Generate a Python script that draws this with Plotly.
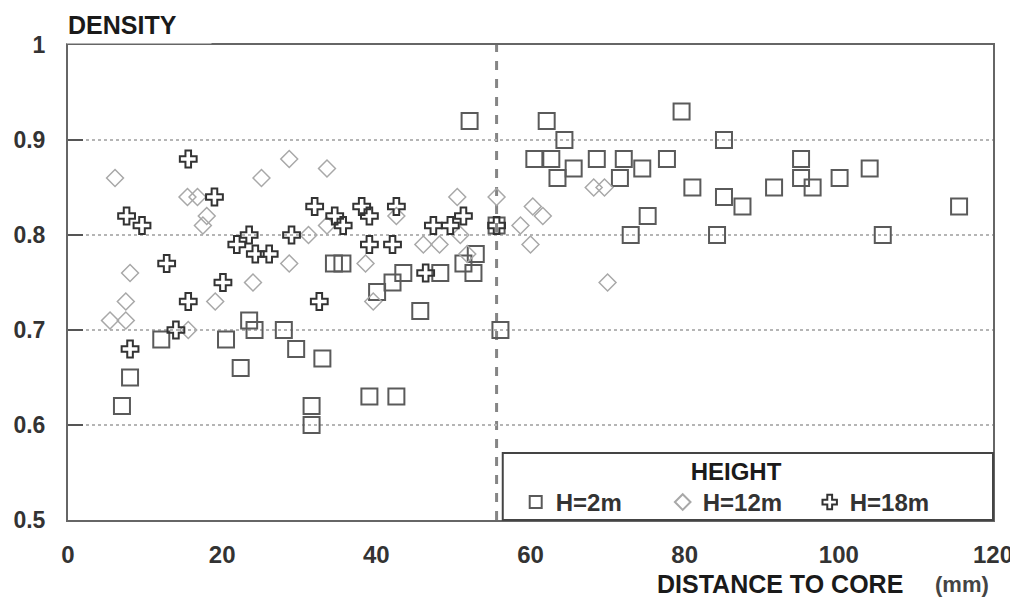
import plotly.graph_objects as go

# ---- data ----
h2_x = [7.0, 8.05, 12.1, 20.5, 22.4, 23.5, 24.2, 28.0, 29.6, 31.6, 31.6, 33.0, 34.5, 35.6,
        39.1, 42.6, 40.1, 42.1, 43.5, 45.7, 48.3, 51.3, 52.6, 52.9, 52.1, 55.6, 56.1,
        60.5, 62.7, 62.1, 64.4, 65.6, 63.5, 68.6, 72.1, 71.6, 74.5, 77.7, 79.6, 85.1,
        81.0, 85.1, 87.5, 75.2, 73.0, 84.2, 95.1, 95.1, 96.6, 91.6, 100.1, 104.0, 115.6, 105.7]
h2_y = [0.62, 0.65, 0.69, 0.69, 0.66, 0.71, 0.70, 0.70, 0.68, 0.62, 0.60, 0.67, 0.77, 0.77,
        0.63, 0.63, 0.74, 0.75, 0.76, 0.72, 0.76, 0.77, 0.76, 0.78, 0.92, 0.81, 0.70,
        0.88, 0.88, 0.92, 0.90, 0.87, 0.86, 0.88, 0.88, 0.86, 0.87, 0.88, 0.93, 0.90,
        0.85, 0.84, 0.83, 0.82, 0.80, 0.80, 0.88, 0.86, 0.85, 0.85, 0.86, 0.87, 0.83, 0.80]

h12_x = [6.1, 15.5, 16.8, 18.0, 17.5, 8.05, 7.5, 5.45, 7.5, 19.1, 15.6, 28.7, 25.1, 33.6,
         31.2, 33.6, 28.7, 24.0, 38.6, 39.6, 42.6, 50.5, 46.1, 48.2, 50.9, 51.8, 55.6,
         58.7, 60.3, 60.0, 61.6, 68.2, 69.6, 70.0]
h12_y = [0.86, 0.84, 0.84, 0.82, 0.81, 0.76, 0.73, 0.71, 0.71, 0.73, 0.70, 0.88, 0.86, 0.87,
         0.80, 0.81, 0.77, 0.75, 0.77, 0.73, 0.82, 0.84, 0.79, 0.79, 0.80, 0.78, 0.84,
         0.81, 0.83, 0.79, 0.82, 0.85, 0.85, 0.75]

h18_x = [15.6, 7.6, 9.6, 19.0, 12.8, 20.1, 15.6, 14.0, 8.05, 21.9, 23.5, 24.3, 26.1, 29.0,
         32.0, 34.6, 35.7, 38.1, 39.1, 39.1, 42.1, 42.6, 32.6, 47.4, 49.6, 51.3, 46.4, 55.6]
h18_y = [0.88, 0.82, 0.81, 0.84, 0.77, 0.75, 0.73, 0.70, 0.68, 0.79, 0.80, 0.78, 0.78, 0.80,
         0.83, 0.82, 0.81, 0.83, 0.82, 0.79, 0.79, 0.83, 0.73, 0.81, 0.81, 0.82, 0.76, 0.81]

core_boundary = 55.6
x_ticks = [0, 20, 40, 60, 80, 100, 120]
y_ticks = [0.5, 0.6, 0.7, 0.8, 0.9, 1]

FONT = "Liberation Sans, Arial, sans-serif"

fig = go.Figure()
fig.add_trace(go.Scatter(x=h2_x, y=h2_y, mode="markers", name="H=2m",
                         marker=dict(symbol="square-open", size=16, color="#5a5a5a",
                                     line=dict(width=2, color="#5a5a5a"))))
fig.add_trace(go.Scatter(x=h12_x, y=h12_y, mode="markers", name="H=12m",
                         marker=dict(symbol="diamond-open", size=13, color="#a8a8a8",
                                     line=dict(width=1.5, color="#a8a8a8"))))
fig.add_trace(go.Scatter(x=h18_x, y=h18_y, mode="markers", name="H=18m",
                         marker=dict(symbol="cross-open", size=14, color="#333333",
                                     line=dict(width=2, color="#333333"))))

# dashed core boundary
fig.add_shape(type="line", xref="x", yref="y", x0=core_boundary, x1=core_boundary,
              y0=0.5, y1=1, line=dict(color="#858585", width=3, dash="dash"), layer="below")

# legend box
fig.add_shape(type="rect", xref="paper", yref="paper", x0=0.470, x1=1.0, y0=0.0, y1=0.141,
              line=dict(color="#444444", width=2), fillcolor="white", layer="above")

# page body has an 8px margin: figure is 8px smaller and margins shifted accordingly
fig.update_layout(
    width=1010, height=595,
    margin=dict(l=60, r=25, t=37, b=83),
    plot_bgcolor="white", paper_bgcolor="white",
    font=dict(family=FONT, color="#2a2a2a"),
    showlegend=True,
    legend=dict(orientation="h", x=0.484, xanchor="left", y=0.15, yanchor="top",
                bgcolor="rgba(0,0,0,0)", borderwidth=0,
                font=dict(family=FONT, size=24, color="#333333", weight="bold"),
                title=dict(text="<b>HEIGHT</b>", side="top center",
                           font=dict(family=FONT, size=24, color="#1a1a1a")),
                itemsizing="constant", entrywidth=102, entrywidthmode="pixels",
                tracegroupgap=0),
    xaxis=dict(range=[0, 120], tickvals=x_ticks, ticktext=[str(v) for v in x_ticks],
               showgrid=False, zeroline=False, showline=True, linecolor="#666666",
               linewidth=2, mirror=True, ticks="", ticklabelstandoff=12, automargin=False,
               tickfont=dict(family=FONT, size=24, color="#333333", weight="bold")),
    yaxis=dict(range=[0.5, 1], tickvals=y_ticks, ticktext=["0.5", "0.6", "0.7", "0.8", "0.9", "1"],
               showgrid=True, gridcolor="#b5b5b5", griddash="dot", gridwidth=1.5,
               zeroline=False, showline=True, linecolor="#666666", linewidth=2,
               mirror=True, ticks="inside", ticklen=15, tickwidth=2, tickcolor="#555555",
               ticklabelstandoff=16, automargin=False,
               tickfont=dict(family=FONT, size=23, color="#333333", weight="bold")),
)

fig.add_annotation(xref="paper", yref="paper", x=-0.002, y=1.0, xanchor="left", yanchor="bottom",
                   text="<b>DENSITY</b>", showarrow=False, align="left",
                   font=dict(family=FONT, size=25, color="#1a1a1a"),
                   bgcolor="white", width=142, height=34, yshift=1)
fig.add_annotation(xref="paper", yref="paper", x=(780 - 68) / 925, y=-0.135,
                   xanchor="center", yanchor="middle", text="<b>DISTANCE TO CORE</b>",
                   showarrow=False, font=dict(family=FONT, size=25, color="#1a1a1a"))
fig.add_annotation(xref="paper", yref="paper", x=(962 - 68) / 925, y=-0.135,
                   xanchor="center", yanchor="middle", text="<b>(mm)</b>",
                   showarrow=False, font=dict(family=FONT, size=22, color="#444444"))

fig.write_html("out.html")
